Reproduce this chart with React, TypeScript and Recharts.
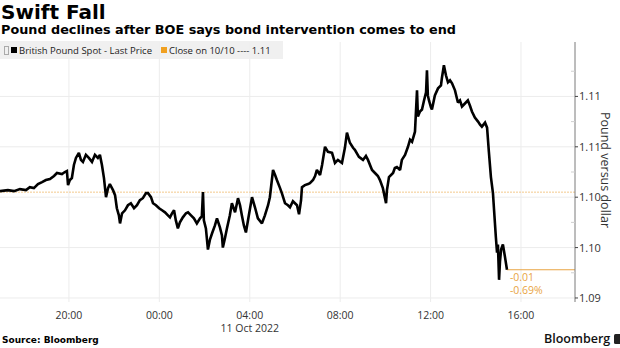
import React from 'react';
import { ComposedChart, Line, XAxis, YAxis, ReferenceLine, ReferenceDot } from 'recharts';

// Hours counted from 10 Oct 2022 00:00 (so 24 = 00:00 on 11 Oct)
const hours = [
  16.95, 17.3, 17.57, 17.83, 18.1, 18.27, 18.45, 18.63, 18.81, 18.98, 19.16, 19.34, 19.47, 19.69, 19.82, 19.91,
  19.96, 20.04, 20.13, 20.22, 20.31, 20.44, 20.53, 20.62, 20.75, 20.88, 21.02, 21.15, 21.28, 21.37, 21.46, 21.55,
  21.64, 21.73, 21.81, 21.95, 22.04, 22.12, 22.21, 22.26, 22.35, 22.48, 22.61, 22.74, 22.88, 23.01, 23.14, 23.27,
  23.41, 23.5, 23.63, 23.72, 23.85, 23.99, 24.12, 24.25, 24.38, 24.47, 24.56, 24.65, 24.73, 24.82, 24.91, 25.04,
  25.18, 25.27, 25.4, 25.53, 25.66, 25.8, 25.88, 25.93, 25.97, 26.06, 26.15, 26.24, 26.33, 26.46, 26.55, 26.68,
  26.77, 26.81, 26.9, 26.99, 27.12, 27.21, 27.35, 27.48, 27.57, 27.65, 27.74, 27.83, 27.96, 28.1, 28.23, 28.36,
  28.54, 28.67, 28.81, 28.89, 29.03, 29.12, 29.2, 29.34, 29.42, 29.56, 29.69, 29.78, 29.91, 30.0, 30.09, 30.18,
  30.27, 30.31, 30.44, 30.58, 30.66, 30.8, 30.89, 30.97, 31.11, 31.2, 31.33, 31.46, 31.64, 31.77, 31.9, 32.08,
  32.21, 32.3, 32.43, 32.57, 32.65, 32.83, 33.01, 33.14, 33.23, 33.41, 33.54, 33.67, 33.76, 33.89, 34.03, 34.07,
  34.16, 34.34, 34.42, 34.51, 34.65, 34.73, 34.87, 35.0, 35.09, 35.18, 35.31, 35.4, 35.44, 35.53, 35.62, 35.71,
  35.8, 35.84, 35.88, 35.93, 36.02, 36.06, 36.19, 36.33, 36.46, 36.5, 36.59, 36.68, 36.77, 36.86, 36.95, 37.08,
  37.21, 37.3, 37.39, 37.52, 37.65, 37.74, 37.83, 37.96, 38.1, 38.19, 38.27, 38.41, 38.5, 38.58, 38.67, 38.76,
  38.81, 38.89, 38.94, 38.98, 39.03, 39.07, 39.12, 39.2, 39.29, 39.38,
];

const prices = [
  1.1056, 1.1057, 1.1056, 1.1058, 1.1057, 1.106, 1.1059, 1.1063, 1.1065, 1.1067, 1.1068, 1.1071, 1.1074, 1.1073, 1.1075, 1.1076,
  1.1062, 1.1067, 1.1069, 1.1082, 1.1089, 1.1094, 1.1087, 1.1085, 1.1092, 1.1089, 1.1085, 1.1092, 1.1089, 1.1092, 1.1082, 1.1069,
  1.105, 1.1059, 1.1063, 1.1057, 1.1052, 1.1039, 1.1032, 1.1024, 1.1034, 1.1037, 1.1042, 1.1044, 1.1039, 1.1042, 1.1047, 1.1049,
  1.1054, 1.1054, 1.105, 1.1044, 1.1042, 1.1039, 1.1037, 1.1035, 1.1032, 1.103, 1.1034, 1.1037, 1.1027, 1.1019, 1.1025, 1.103,
  1.1034, 1.1035, 1.1032, 1.1029, 1.1024, 1.1029, 1.1031, 1.1055, 1.1027, 1.1019, 1.0998, 1.1008, 1.1014, 1.1022, 1.1029, 1.102,
  1.1012, 1.1, 1.1009, 1.1019, 1.1032, 1.1044, 1.1035, 1.1049, 1.1042, 1.1032, 1.1022, 1.1015, 1.1032, 1.105, 1.104, 1.1029,
  1.1024, 1.1032, 1.1042, 1.105, 1.1077, 1.1072, 1.1067, 1.1059, 1.1054, 1.1044, 1.1042, 1.104, 1.1046, 1.1044, 1.1042, 1.1033,
  1.1047, 1.106, 1.1062, 1.1063, 1.1064, 1.1067, 1.1071, 1.1077, 1.1072, 1.1082, 1.11, 1.1095, 1.1094, 1.1084, 1.1087, 1.1084,
  1.1099, 1.1114, 1.1104, 1.1099, 1.1097, 1.109, 1.1087, 1.1091, 1.1087, 1.1077, 1.1074, 1.1071, 1.1067, 1.1059, 1.1044, 1.1057,
  1.107, 1.1074, 1.1079, 1.108, 1.1077, 1.1087, 1.1092, 1.11, 1.1107, 1.1105, 1.1115, 1.1156, 1.113, 1.1135, 1.1137, 1.1146,
  1.1154, 1.1176, 1.1151, 1.1146, 1.1139, 1.1137, 1.1151, 1.1158, 1.1161, 1.1168, 1.1181, 1.1171, 1.1164, 1.1166, 1.1163, 1.1156,
  1.1144, 1.1146, 1.114, 1.1143, 1.1146, 1.1141, 1.1135, 1.1129, 1.1125, 1.1122, 1.112, 1.1124, 1.1119, 1.1095, 1.107, 1.1054,
  1.1037, 1.101, 1.0995, 1.1003, 1.0968, 1.0986, 1.0998, 1.1003, 1.0991, 1.0978,
];

const prevClose = 1.1055;
const xDomain = [16.95, 42.39];
const yDomain = [1.0946, 1.1204];
const xTicks = [20, 24, 28, 32, 36, 40];
const xTickLabels = ['20:00', '00:00', '04:00', '08:00', '12:00', '16:00'];
const dateTick = 28;
const dateLabel = '11 Oct 2022';
const yMajorTicks = [1.095, 1.1, 1.105, 1.11, 1.115];
const yMajorLabels = ['1.09', '1.10', '1.10', '1.11', '1.11'];
const yMinorTicks = [1.0975, 1.1025, 1.1075, 1.1125, 1.1175];
const changeLabels = ['-0.01', '-0.69%'];

const ORANGE = '#e9a443';

const YTick = (props: any) => {
  const { x, y, payload } = props;
  const idx = yMajorTicks.indexOf(payload.value);
  if (idx < 0) {
    return <line x1={x - 4} x2={x} y1={y} y2={y} stroke="#cfcfcf" strokeWidth={1} />;
  }
  return (
    <g>
      <line x1={x} x2={x + 3} y1={y} y2={y} stroke="#444" strokeWidth={1} />
      <text x={x + 4} y={y} dy={4} fontSize={11} fill="#333" fontFamily='"Open Sans", sans-serif'>
        {yMajorLabels[idx]}
      </text>
    </g>
  );
};

const XTick = (props: any) => {
  const { x, y, payload } = props;
  const idx = xTicks.indexOf(payload.value);
  return (
    <g fontFamily='"Open Sans", sans-serif' fontSize={10.5} fill="#333">
      <text x={x} y={y} dy={17}>
        <tspan textAnchor="middle" x={x}>{xTickLabels[idx]}</tspan>
      </text>
      {payload.value === dateTick && (
        <text x={x} y={y} dy={30}>
          <tspan textAnchor="middle" x={x}>{dateLabel}</tspan>
        </text>
      )}
    </g>
  );
};

const ChangeLabel = (props: any) => {
  const vb = props.viewBox || {};
  const x = vb.x ?? 0;
  const y = vb.y ?? 0;
  return (
    <g fontFamily='"Open Sans", sans-serif' fontSize={10.5} fill={ORANGE}>
      <text x={x + 3} y={y} dy={11.5}>{changeLabels[0]}</text>
      <text x={x + 3} y={y} dy={24.5}>{changeLabels[1]}</text>
    </g>
  );
};

export default function App() {
  const data = hours.map((h, i) => ({ h, p: prices[i] }));
  const lastH = hours[hours.length - 1];
  const last = prices[prices.length - 1];
  return (
    <div style={{ position: 'absolute', left: 0, top: 0, width: 620, height: 348, background: '#fff', overflow: 'hidden', fontFamily: '"Open Sans", sans-serif' }}>
      <ComposedChart
        width={620}
        height={348}
        data={data}
        margin={{ top: 42, right: 0, bottom: 0, left: 0 }}
        style={{ position: 'absolute', left: 0, top: 0 }}
      >
        {yMajorTicks.map((v) => (
          <ReferenceLine key={'gy' + v} y={v} stroke="#ececec" strokeWidth={1} />
        ))}
        {xTicks.map((v) => (
          <ReferenceLine key={'gx' + v} x={v} stroke="#ececec" strokeWidth={1} />
        ))}
        <XAxis
          dataKey="h"
          type="number"
          domain={xDomain}
          ticks={xTicks}
          axisLine={false}
          tickLine={false}
          tickSize={0}
          tickMargin={0}
          height={46}
          tick={<XTick />}
          allowDataOverflow
        />
        <YAxis
          orientation="right"
          type="number"
          domain={yDomain}
          ticks={[...yMinorTicks, ...yMajorTicks]}
          axisLine={{ stroke: '#7a7a7a' }}
          tickLine={false}
          tickSize={0}
          tickMargin={0}
          width={45}
          tick={<YTick />}
          interval={0}
          allowDataOverflow
        />
        <ReferenceLine y={prevClose} stroke="#f3c98c" strokeWidth={1} strokeDasharray="2 1" />
        <ReferenceLine
          segment={[{ x: lastH, y: last }, { x: xDomain[1], y: last }]}
          stroke={ORANGE}
          strokeWidth={1}
        />
        <Line
          type="linear"
          dataKey="p"
          stroke="#000"
          strokeWidth={2.6}
          strokeLinejoin="miter"
          strokeMiterlimit={2}
          dot={false}
          isAnimationActive={false}
        />
        <ReferenceDot x={lastH} y={last} r={0} fill="none" stroke="none" label={<ChangeLabel />} />
      </ComposedChart>

      <div style={{ position: 'absolute', left: 1, top: 2, fontFamily: '"DejaVu Sans", sans-serif', fontWeight: 700, fontSize: 20, lineHeight: '20px', color: '#000', whiteSpace: 'nowrap' }}>
        Swift Fall
      </div>
      <div style={{ position: 'absolute', left: 1, top: 22, fontFamily: '"DejaVu Sans", sans-serif', fontWeight: 700, fontSize: 12.8, lineHeight: '15px', color: '#000', whiteSpace: 'nowrap' }}>
        Pound declines after BOE says bond intervention comes to end
      </div>

      <div style={{ position: 'absolute', left: 0, top: 41, width: 283, height: 18, background: 'rgba(238,238,238,0.9)', display: 'flex', alignItems: 'center', fontSize: 9.5, color: '#222', whiteSpace: 'nowrap' }}>
        <span style={{ display: 'inline-block', width: 3, height: 7, border: '1px solid #aaa', marginLeft: 4, marginRight: 2 }} />
        <span style={{ display: 'inline-block', width: 6, height: 6, background: '#000', marginRight: 2 }} />
        <span>British Pound Spot - Last Price</span>
        <span style={{ display: 'inline-block', width: 6, height: 6, background: '#f0a020', marginLeft: 9, marginRight: 2 }} />
        <span>Close on 10/10 ---- 1.11</span>
      </div>

      <div style={{ position: 'absolute', left: 597, top: 112, writingMode: 'vertical-rl', fontSize: 12.5, color: '#333', whiteSpace: 'nowrap' }}>
        Pound versus dollar
      </div>

      <div style={{ position: 'absolute', left: 2, top: 333, fontFamily: '"DejaVu Sans", sans-serif', fontWeight: 700, fontSize: 9, color: '#000', whiteSpace: 'nowrap', lineHeight: '14px' }}>
        Source: Bloomberg
      </div>
      <div style={{ position: 'absolute', left: 544, top: 331, display: 'flex', alignItems: 'center', whiteSpace: 'nowrap' }}>
        <span style={{ fontSize: 12.5, fontWeight: 600, color: '#111', lineHeight: '16px' }}>Bloomberg</span>
        <span style={{ display: 'inline-block', width: 8, height: 10, background: '#222', borderRadius: 1.5, marginLeft: 4 }} />
      </div>
    </div>
  );
}
